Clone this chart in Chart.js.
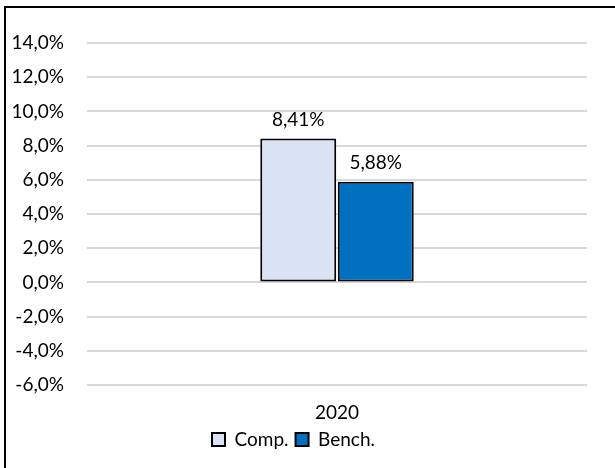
<!DOCTYPE html>
<html>
<head>
<meta charset="utf-8">
<script src="https://cdn.jsdelivr.net/npm/chart.js@4/dist/chart.umd.min.js"></script>
<style>
  html, body { margin: 0; padding: 0; background: #fff; }
  #wrap { position: relative; width: 615px; height: 468px; }
</style>
</head>
<body>
<div id="wrap"><canvas id="c" width="615" height="468"></canvas></div>
<script>
const categories = ["2020"];
const seriesNames = ["Comp.", "Bench."];
const compValues = [8.41];
const benchValues = [5.88];
const yTickMin = -6;
const yTickMax = 14;
const yTickStep = 2;

const FONT = "Lato";
const FS = 19;

const fmt = (v, d) => v.toFixed(d).replace(".", ",") + "%";

const framePlugin = {
  id: "frame",
  afterDraw(chart) {
    const ctx = chart.ctx;
    ctx.save();
    ctx.fillStyle = "#000";
    ctx.fillRect(4, 6, 611, 2);
    ctx.fillRect(4, 6, 2, 462);
    ctx.restore();
  }
};

const labelPlugin = {
  id: "valueLabels",
  afterDatasetsDraw(chart) {
    const ctx = chart.ctx;
    ctx.save();
    ctx.font = FS + "px " + FONT;
    ctx.fillStyle = "#000";
    ctx.textAlign = "center";
    ctx.textBaseline = "bottom";
    chart.data.datasets.forEach((ds, i) => {
      chart.getDatasetMeta(i).data.forEach((bar, j) => {
        ctx.fillText(fmt(ds.data[j], 2), bar.x, bar.y - 9);
      });
    });
    ctx.restore();
  }
};

new Chart(document.getElementById("c"), {
  type: "bar",
  data: {
    labels: categories,
    datasets: [
      { label: seriesNames[0], data: compValues, backgroundColor: "#DAE3F3", borderColor: "#000", borderWidth: 2, borderSkipped: false },
      { label: seriesNames[1], data: benchValues, backgroundColor: "#0070C0", borderColor: "#000", borderWidth: 2, borderSkipped: false }
    ]
  },
  options: {
    responsive: false,
    animation: false,
    devicePixelRatio: 1,
    layout: { padding: { top: 43, right: 28, bottom: 9, left: 0 } },
    datasets: { bar: { categoryPercentage: 0.31, barPercentage: 0.98 } },
    plugins: {
      legend: {
        position: "bottom",
        labels: {
          color: "#000",
          font: { family: FONT, size: FS },
          boxWidth: 13,
          boxHeight: 13,
          padding: 7
        }
      },
      tooltip: { enabled: false }
    },
    scales: {
      x: {
        grid: { display: false, drawTicks: false },
        border: { display: false },
        ticks: { color: "#000", font: { family: FONT, size: FS }, padding: 16 },
        afterFit(scale) { scale.height = 38; }
      },
      y: {
        min: yTickMin,
        max: yTickMax,
        ticks: {
          stepSize: yTickStep,
          color: "#000",
          font: { family: FONT, size: FS },
          padding: 23,
          callback: v => fmt(v, 1)
        },
        grid: { color: "#D9D9D9", lineWidth: 2, drawTicks: false },
        border: { display: false },
        afterFit(scale) { scale.width = 87; }
      }
    }
  },
  plugins: [framePlugin, labelPlugin]
});
</script>
</body>
</html>
